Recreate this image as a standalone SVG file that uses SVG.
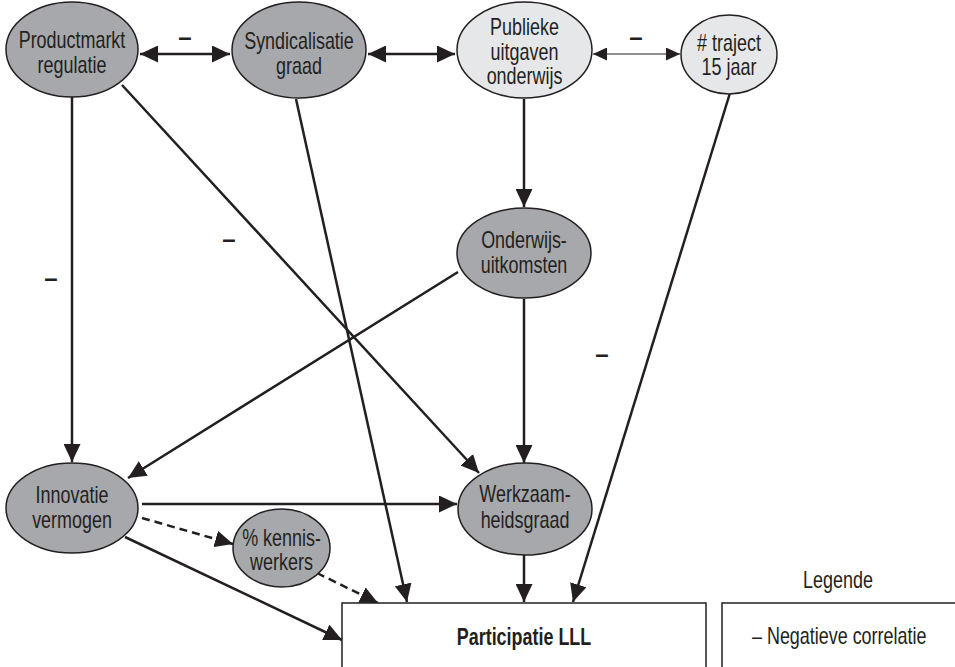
<svg xmlns="http://www.w3.org/2000/svg" width="955" height="667" viewBox="0 0 955 667">
<style>
.dark{fill:#a7a8ab;stroke:#231f20;stroke-width:1.5}
.light{fill:#e6e7e8;stroke:#231f20;stroke-width:1.5}
.box{fill:#ffffff;stroke:#231f20;stroke-width:1.5}
text{font-family:"Liberation Sans",Arial,sans-serif;font-size:23px;fill:#231f20;text-anchor:middle}
.b{font-weight:bold}
.m{font-size:24px;font-weight:bold}
.c{fill:none;stroke:#231f20;stroke-width:2.5}
.t{fill:none;stroke:#231f20;stroke-width:1.2}
.d{stroke-dasharray:8 5}
</style>
<defs>
<marker id="ah" markerUnits="userSpaceOnUse" markerWidth="19" markerHeight="17" refX="18" refY="8.5" orient="auto-start-reverse">
<path d="M0,0 L18,8.5 L0,17 z" fill="#231f20"/>
</marker>
<marker id="ahs" markerUnits="userSpaceOnUse" markerWidth="15" markerHeight="13" refX="14" refY="6.5" orient="auto-start-reverse">
<path d="M0,0 L14,6.5 L0,13 z" fill="#231f20"/>
</marker>
</defs>

<g id="connectors">
<line class="c" x1="140" y1="54" x2="230" y2="54" marker-start="url(#ah)" marker-end="url(#ah)"/>
<line class="c" x1="368" y1="54" x2="455" y2="54" marker-start="url(#ah)" marker-end="url(#ah)"/>
<line class="t" x1="593" y1="54" x2="680" y2="54" marker-start="url(#ahs)" marker-end="url(#ahs)"/>
<line class="c" x1="72" y1="97" x2="72" y2="462" marker-end="url(#ah)"/>
<line class="c" x1="122" y1="85" x2="479" y2="473" marker-end="url(#ah)"/>
<line class="c" x1="296" y1="99" x2="407" y2="602" marker-end="url(#ah)"/>
<line class="c" x1="524" y1="99" x2="524" y2="207" marker-end="url(#ah)"/>
<line class="c" x1="730" y1="93" x2="573" y2="602" marker-end="url(#ah)"/>
<line class="c" x1="458" y1="272" x2="128" y2="478" marker-end="url(#ah)"/>
<line class="c" x1="524" y1="299" x2="524" y2="463" marker-end="url(#ah)"/>
<line class="c" x1="142" y1="504" x2="457" y2="504" marker-end="url(#ah)"/>
<line class="c d" x1="142" y1="518" x2="233" y2="544" marker-end="url(#ah)"/>
<line class="c d" x1="317" y1="573" x2="378" y2="603" marker-end="url(#ah)"/>
<line class="c" x1="125" y1="537" x2="342" y2="640" marker-end="url(#ah)"/>
<line class="c" x1="524" y1="555" x2="524" y2="602" marker-end="url(#ah)"/>
<text class="m" x="185" y="45">–</text>
<text class="m" x="636" y="45">–</text>
<text class="m" x="51" y="286">–</text>
<text class="m" x="229" y="247">–</text>
<text class="m" x="602" y="362">–</text>
</g>

<g id="productmarkt">
<ellipse class="dark" cx="72" cy="49.5" rx="66" ry="47.5"/>
<g transform="translate(72,49) scale(0.78,1)"><text y="-1">Productmarkt</text><text y="24">regulatie</text></g>
</g>

<g id="syndicalisatie">
<ellipse class="dark" cx="299" cy="50" rx="67" ry="48"/>
<g transform="translate(299,50) scale(0.78,1)"><text y="-1">Syndicalisatie</text><text y="24">graad</text></g>
</g>

<g id="publieke">
<ellipse class="light" cx="524.5" cy="50" rx="67.5" ry="48"/>
<g transform="translate(524.5,50) scale(0.78,1)"><text y="-15">Publieke</text><text y="10">uitgaven</text><text y="34">onderwijs</text></g>
</g>

<g id="traject">
<ellipse class="light" cx="729" cy="54.5" rx="48" ry="39.5"/>
<g transform="translate(729,54) scale(0.78,1)"><text y="-3">#&#160;traject</text><text y="21">15 jaar</text></g>
</g>

<g id="onderwijsuitkomsten">
<ellipse class="dark" cx="524" cy="253" rx="67" ry="45"/>
<g transform="translate(524,253) scale(0.78,1)"><text y="-5">Onderwijs-</text><text y="20">uitkomsten</text></g>
</g>

<g id="innovatie">
<ellipse class="dark" cx="72" cy="508" rx="66" ry="45"/>
<g transform="translate(72,508) scale(0.78,1)"><text y="-5">Innovatie</text><text y="20">vermogen</text></g>
</g>

<g id="werkzaamheidsgraad">
<ellipse class="dark" cx="525" cy="509" rx="67" ry="46"/>
<g transform="translate(525,509) scale(0.78,1)"><text y="-7">Werkzaam-</text><text y="19">heidsgraad</text></g>
</g>

<g id="kenniswerkers">
<ellipse class="dark" cx="281.5" cy="548" rx="48.5" ry="39"/>
<g transform="translate(281.5,548) scale(0.78,1)"><text y="-2">% kennis-</text><text y="22">werkers</text></g>
</g>

<g id="participatie">
<rect class="box" x="342" y="603" width="364" height="80"/>
<g transform="translate(524,645) scale(0.78,1)"><text class="b">Participatie LLL</text></g>
</g>

<g id="legende">
<g transform="translate(838,588) scale(0.78,1)"><text>Legende</text></g>
<rect class="box" x="722" y="603" width="250" height="80"/>
<g transform="translate(752,644) scale(0.78,1)"><text style="text-anchor:start">– Negatieve correlatie</text></g>
</g>
</svg>
